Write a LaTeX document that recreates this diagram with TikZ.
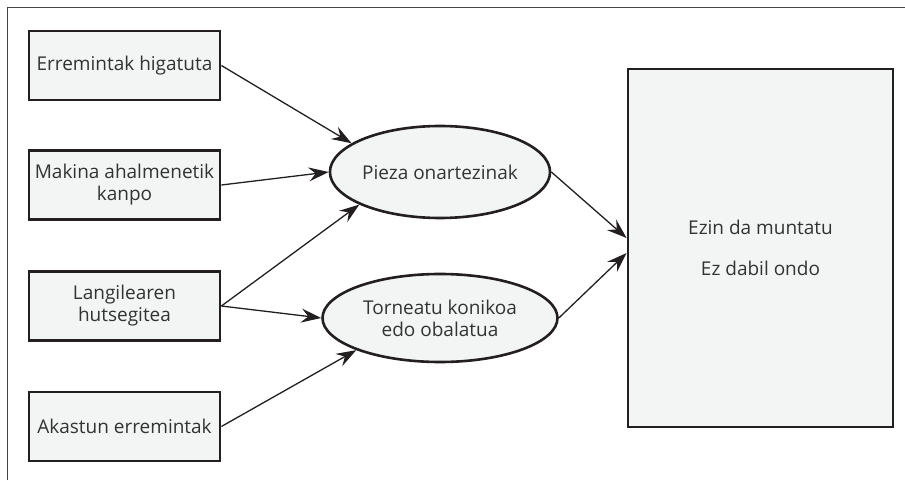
\documentclass[tikz,border=0pt]{standalone}
\usepackage{fontspec}
\setmainfont{Open Sans}
\usetikzlibrary{shapes.geometric,arrows.meta}
\definecolor{ink}{HTML}{231F20}
\definecolor{txt}{HTML}{333333}
\definecolor{pale}{HTML}{F3F4F4}
\definecolor{frame}{HTML}{444444}
\begin{document}
\begin{tikzpicture}[x=1pt,y=1pt,
  label font/.style={font=\fontsize{19}{22}\selectfont},
  cause/.style={draw=ink,line width=2.8pt,fill=pale,minimum width=191pt,minimum height=69pt,
    align=center,text=txt,label font,inner sep=0pt},
  effect/.style={ellipse,draw=ink,line width=2.6pt,fill=pale,align=center,text=txt,
    label font,inner sep=0pt},
  result/.style={draw=ink,line width=2.8pt,fill=pale,minimum width=265pt,minimum height=358pt,
    align=center,text=txt,label font},
  link/.style={draw=ink,line width=1.3pt,-{Stealth[length=20pt,width=14pt,inset=7pt]}}]
\useasboundingbox (0,0) rectangle (905,480);
% open frame: only the top and left edges
\draw[frame,line width=1pt] (7,0) -- (7,472) -- (905,472);
% causes
\node[cause] (b1) at (124.5,414.5) {Erremintak higatuta};
\node[cause] (b2) at (124.5,295) {Makina ahalmenetik\\kanpo};
\node[cause] (b3) at (124.5,174) {Langilearen\\hutsegitea};
\node[cause] (b4) at (124.5,53.5) {Akastun erremintak};
% intermediate effects
\node[effect,minimum width=216pt,minimum height=92pt] (e1) at (440,308) {Pieza onartezinak};
\node[effect,minimum width=235pt,minimum height=88pt] (e2) at (440,162) {Torneatu konikoa\\edo obalatua};
% final result
\node[result] (r) at (760.5,232) {Ezin da muntatu\\[19pt]Ez dabil ondo};
% connectors
\draw[link] (b1.east) -- (e1.162);
\draw[link] (b2.east) -- (e1.west);
\draw[link] (b3.east) -- (e1.202);
\draw[link] (b3.east) -- (e2.west);
\draw[link] (b4.east) -- (e2.201);
\draw[link] (e1.east) -- ([yshift=10pt]r.west);
\draw[link] (e2.east) -- ([yshift=-5pt]r.west);
\end{tikzpicture}
\end{document}
